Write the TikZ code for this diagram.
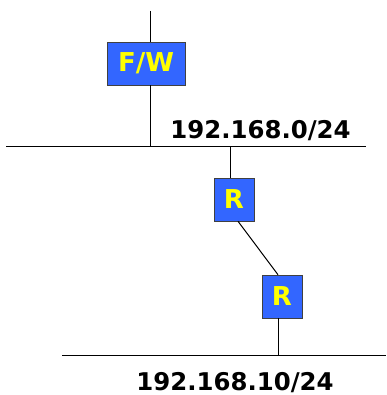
\documentclass[tikz,border=0pt]{standalone}
\usepackage{fontspec}
\setmainfont{DejaVu Sans}
\usepackage{xcolor}
\definecolor{boxblue}{HTML}{3366FF}
\definecolor{boxyellow}{HTML}{FFFF00}
\tikzset{
	dev/.style={draw=black!75, fill=boxblue, text=boxyellow, font=\bfseries\fontsize{19.5}{20}\selectfont, inner sep=0pt},
	net/.style={font=\bfseries\fontsize{18.3}{19}\selectfont, anchor=base, inner sep=0pt},
	wire/.style={line width=0.75pt}
}
\begin{document}
\begin{tikzpicture}[x=0.75pt,y=-0.75pt]
	\useasboundingbox (0,0) rectangle (386,395);
	
	\node[dev, minimum width=58.5pt, minimum height=32.25pt] (fw) at (146,63.5) {F/W};
	\node[dev, minimum width=30pt, minimum height=32.25pt] (ra) at (234,199.5) {R};
	\node[dev, minimum width=30pt, minimum height=32.25pt] (rb) at (282,296.5) {R};
	
	\coordinate (up) at (150,11);
	\coordinate (tapfw) at (150,147);
	\coordinate (tapra) at (230,147);
	\coordinate (taprb) at (278,355);
	
	% upper network
	\draw[wire] (6,147) -- (366,147);
	\node[net] (lan0) at (260.5,139) {192.168.0/24};
	
	% lower network
	\draw[wire] (62,355) -- (386,355);
	\node[net] (lan10) at (235,390) {192.168.10/24};
	
	\draw[wire] (up) -- (up |- fw.north);
	\draw[wire] (tapfw |- fw.south) -- (tapfw);
	\draw[wire] (tapra) -- (tapra |- ra.north);
	\draw[wire] ([xshift=3pt]ra.south) -- ([xshift=-3pt]rb.north);
	\draw[wire] (taprb |- rb.south) -- (taprb);
	
\end{tikzpicture}
\end{document}
